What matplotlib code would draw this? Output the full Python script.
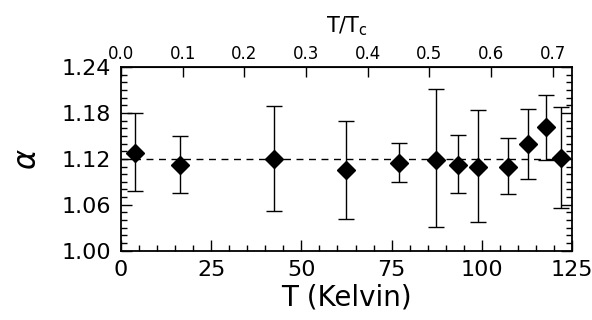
import matplotlib.pyplot as plt
from matplotlib.ticker import FixedLocator, MultipleLocator

# temperature (K), alpha and the upper/lower ends of each error bar
temps = [3.9, 16.3, 42.4, 62.5, 77.0, 87.3, 93.4, 99.0, 107.3, 112.7, 117.8, 122.0]
alpha = [1.128, 1.112, 1.120, 1.105, 1.115, 1.119, 1.112, 1.110, 1.110, 1.139, 1.161, 1.121]
err_hi = [1.180, 1.150, 1.189, 1.170, 1.141, 1.211, 1.151, 1.184, 1.147, 1.185, 1.203, 1.188]
err_lo = [1.078, 1.076, 1.052, 1.041, 1.090, 1.031, 1.075, 1.037, 1.074, 1.094, 1.118, 1.056]
alpha_mean = 1.12
Tc = 171.0
y_ticks = [1.00, 1.06, 1.12, 1.18, 1.24]
ratio_ticks = [0.0, 0.1, 0.2, 0.3, 0.4, 0.5, 0.6, 0.7]

plt.rcParams['font.family'] = ['DejaVu Sans']

fig = plt.figure(figsize=(5.92, 3.2), dpi=100)
ax = fig.add_axes([0.2044, 0.2166, 0.7618, 0.574])

lower = [a - lo for a, lo in zip(alpha, err_lo)]
upper = [hi - a for a, hi in zip(alpha, err_hi)]
ax.errorbar(temps, alpha, yerr=[lower, upper], fmt='D', color='black',
            markersize=9.5, elinewidth=1.0, capsize=6, capthick=1.0)
ax.axhline(alpha_mean, color='black', linestyle=(0, (5, 4)), linewidth=1.0)

ax.set_xlim(0, 125)
ax.set_ylim(1.00, 1.24)
ax.xaxis.set_major_locator(MultipleLocator(25))
ax.xaxis.set_minor_locator(MultipleLocator(5))
ax.yaxis.set_major_locator(FixedLocator(y_ticks))
ax.yaxis.set_minor_locator(MultipleLocator(0.01))
ax.yaxis.set_major_formatter(plt.FormatStrFormatter('%.2f'))
ax.tick_params(which='both', direction='in', right=True, width=1.0, labelsize=16)
ax.tick_params(which='major', length=8, pad=7)
ax.tick_params(which='minor', length=4)
ax.tick_params(axis='x', which='both', top=False)
for s in ax.spines.values():
    s.set_linewidth(1.3)

ax.set_xlabel('T (Kelvin)', fontsize=20, labelpad=2)
ax.set_ylabel(r'$\alpha$', fontsize=22, labelpad=14)

top = ax.secondary_xaxis('top', functions=(lambda t: t / Tc, lambda r: r * Tc))
top.xaxis.set_major_locator(FixedLocator(ratio_ticks))
top.xaxis.set_minor_locator(FixedLocator([]))
top.xaxis.set_major_formatter(plt.FormatStrFormatter('%.1f'))
top.tick_params(direction='in', length=7, width=1.0, labelsize=12, pad=3)
top.set_xlabel(r'T/T$_{\rm c}$', fontsize=15, labelpad=9)

fig.savefig('out.png', dpi=100)
